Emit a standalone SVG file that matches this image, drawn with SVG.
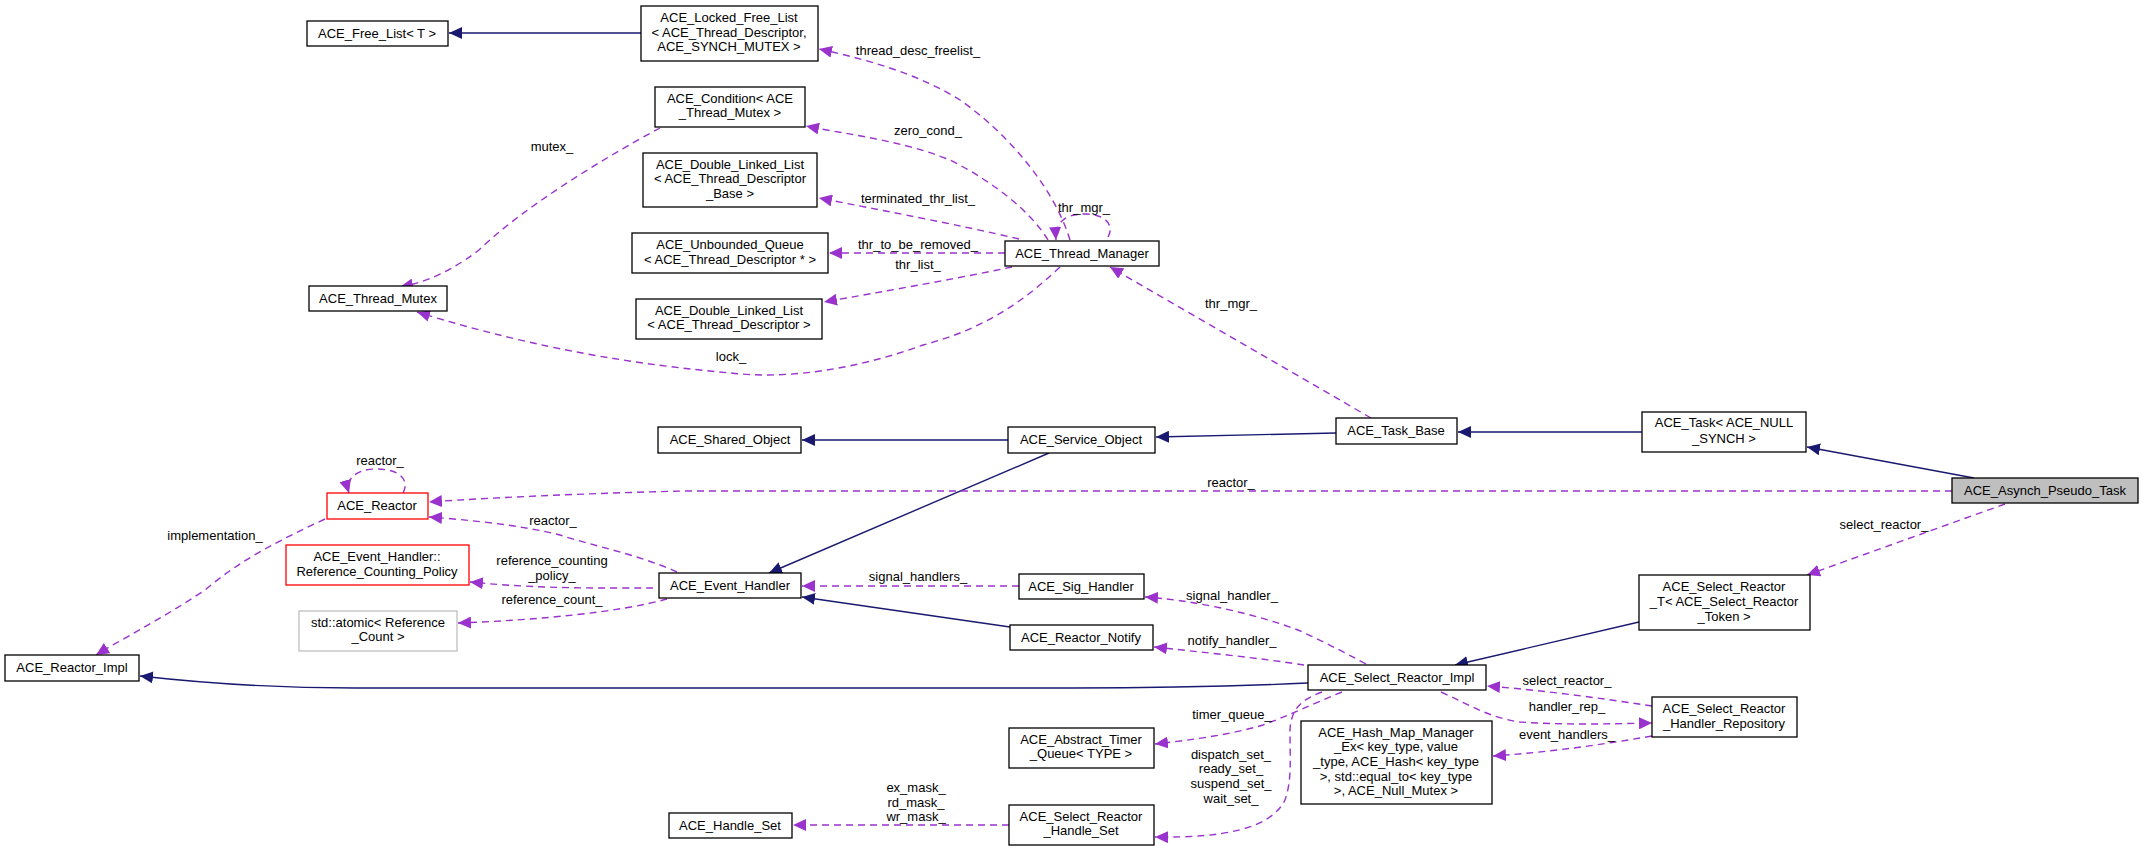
<svg xmlns="http://www.w3.org/2000/svg" width="2144" height="851" viewBox="0 0 2144 851">
<style>
text{font-family:"Liberation Sans",Arial,sans-serif;font-size:13px;fill:#000;text-anchor:middle}
.n{fill:#fff;stroke:#000;stroke-width:1.3}
.r{fill:#fff;stroke:#ff0000;stroke-width:1.3}
.g{fill:#fff;stroke:#bfbfbf;stroke-width:1.3}
.me{fill:#bfbfbf;stroke:#000;stroke-width:1.3}
.i{fill:none;stroke:#191970;stroke-width:1.4;marker-end:url(#ai)}
.u{fill:none;stroke:#9a32cd;stroke-width:1.4;stroke-dasharray:7,5;marker-end:url(#au)}
</style>
<defs>
<marker id="ai" markerUnits="userSpaceOnUse" markerWidth="14" markerHeight="12" refX="13" refY="6" orient="auto"><path d="M0,0 L13,6 L0,12 z" fill="#191970"/></marker>
<marker id="au" markerUnits="userSpaceOnUse" markerWidth="14" markerHeight="12" refX="13" refY="6" orient="auto"><path d="M0,0 L13,6 L0,12 z" fill="#9a32cd"/></marker>
</defs>
<rect width="2144" height="851" fill="#fff"/>
<g id="edges">
<path class="i" d="M641,33 L449,33"/>
<path class="u" d="M1070,240 C1055,190 1010,135 960,100 C920,75 870,60 819,49"/>
<path class="u" d="M1048,240 C1030,210 990,180 950,160 C900,140 850,135 806,126"/>
<path class="u" d="M1019,239 C960,225 880,210 819,198"/>
<path class="u" d="M1005,253 L829,253"/>
<path class="u" d="M1012,267 C950,280 880,292 824,302"/>
<path class="u" d="M1060,267 C1020,305 980,330 923,345 C860,368 790,380 731,373 C640,365 540,350 417,312"/>
<path class="u" d="M660,128 C600,160 520,210 479,250 C440,280 410,285 400,287"/>
<path class="u" d="M1108,237 C1115,225 1105,214 1085,214 C1062,214 1055,225 1056,240"/>
<path class="u" d="M1371,418 L1110,267"/>
<path class="i" d="M1008,440 L802,440"/>
<path class="i" d="M1049,453 L769,573"/>
<path class="u" d="M1952,491 L684,491 C600,493 500,497 429,502"/>
<path class="u" d="M677,572 C640,555 590,545 560,535 C520,525 470,520 429,517"/>
<path class="u" d="M653,588 C600,588 540,589 470,582"/>
<path class="u" d="M667,599 C620,612 540,620 458,623"/>
<path class="u" d="M325,519 C280,540 240,560 205,590 C160,620 120,640 96,655"/>
<path class="u" d="M403,493 C410,480 400,469 376,469 C355,469 345,480 349,493"/>
<path class="i" d="M1308,683 C1200,688 1100,688 1072,688 L355,688 C300,688 220,685 140,676"/>
<path class="u" d="M1019,586 L802,586"/>
<path class="i" d="M1010,627 L802,597"/>
<path class="u" d="M1009,825 L793,825"/>
<path class="i" d="M1336,433 L1156,437"/>
<path class="i" d="M1642,432 L1458,432"/>
<path class="i" d="M1974,478 L1807,447"/>
<path class="u" d="M2005,504 L1807,575"/>
<path class="i" d="M1639,622 L1455,665"/>
<path class="u" d="M1366,664 C1340,650 1320,640 1298,630 C1250,612 1190,600 1145,597"/>
<path class="u" d="M1304,665 C1260,658 1200,652 1154,647"/>
<path class="u" d="M1342,692 C1310,705 1290,715 1263,725 C1230,735 1190,740 1155,744"/>
<path class="u" d="M1322,692 C1300,700 1291,710 1290,730 C1290,760 1292,780 1285,800 C1270,830 1220,838 1155,837"/>
<path class="u" d="M1652,706 C1600,698 1540,690 1487,686"/>
<path class="u" d="M1441,692 C1470,705 1490,718 1520,722 C1560,725 1610,724 1652,723"/>
<path class="u" d="M1652,736 C1600,745 1550,752 1493,756"/>
</g>
<g id="labels">
<text x="918" y="55">thread_desc_freelist_</text>
<text x="928" y="135">zero_cond_</text>
<text x="552" y="151">mutex_</text>
<text x="918" y="203">terminated_thr_list_</text>
<text x="918" y="249">thr_to_be_removed_</text>
<text x="918" y="269">thr_list_</text>
<text x="731" y="361">lock_</text>
<text x="1084" y="212">thr_mgr_</text>
<text x="1231" y="308">thr_mgr_</text>
<text x="380" y="465">reactor_</text>
<text x="215" y="540">implementation_</text>
<text x="553" y="525">reactor_</text>
<text x="552" y="565">reference_counting</text>
<text x="552" y="580">_policy_</text>
<text x="552" y="604">reference_count_</text>
<text x="918" y="581">signal_handlers_</text>
<text x="916" y="792">ex_mask_</text>
<text x="916" y="807">rd_mask_</text>
<text x="916" y="821">wr_mask_</text>
<text x="1231" y="487">reactor_</text>
<text x="1884" y="529">select_reactor_</text>
<text x="1232" y="600">signal_handler_</text>
<text x="1232" y="645">notify_handler_</text>
<text x="1232" y="719">timer_queue_</text>
<text x="1231" y="759">dispatch_set_</text>
<text x="1231" y="773">ready_set_</text>
<text x="1231" y="788">suspend_set_</text>
<text x="1231" y="803">wait_set_</text>
<text x="1567" y="685">select_reactor_</text>
<text x="1567" y="711">handler_rep_</text>
<text x="1567" y="739">event_handlers_</text>
</g>
<g id="n_free"><rect class="n" x="307" y="21" width="141" height="25"/><text x="377" y="38">ACE_Free_List&lt; T &gt;</text></g>
<g id="n_locked"><rect class="n" x="641" y="6" width="177" height="55"/><text x="729" y="22">ACE_Locked_Free_List</text><text x="729" y="37">&lt; ACE_Thread_Descriptor,</text><text x="729" y="51">ACE_SYNCH_MUTEX &gt;</text></g>
<g id="n_cond"><rect class="n" x="655" y="87" width="150" height="40"/><text x="730" y="103">ACE_Condition&lt; ACE</text><text x="730" y="117">_Thread_Mutex &gt;</text></g>
<g id="n_dllb"><rect class="n" x="643" y="153" width="174" height="54"/><text x="730" y="169">ACE_Double_Linked_List</text><text x="730" y="183">&lt; ACE_Thread_Descriptor</text><text x="730" y="198">_Base &gt;</text></g>
<g id="n_uq"><rect class="n" x="632" y="233" width="196" height="40"/><text x="730" y="249">ACE_Unbounded_Queue</text><text x="730" y="264">&lt; ACE_Thread_Descriptor * &gt;</text></g>
<g id="n_dll"><rect class="n" x="636" y="299" width="186" height="40"/><text x="729" y="315">ACE_Double_Linked_List</text><text x="729" y="329">&lt; ACE_Thread_Descriptor &gt;</text></g>
<g id="n_tmutex"><rect class="n" x="309" y="286" width="138" height="25"/><text x="378" y="303">ACE_Thread_Mutex</text></g>
<g id="n_tmgr"><rect class="n" x="1005" y="241" width="154" height="25"/><text x="1082" y="258">ACE_Thread_Manager</text></g>
<g id="n_shared"><rect class="n" x="658" y="427" width="143" height="26"/><text x="730" y="444">ACE_Shared_Object</text></g>
<g id="n_svc"><rect class="n" x="1008" y="427" width="147" height="26"/><text x="1081" y="444">ACE_Service_Object</text></g>
<g id="n_taskbase"><rect class="n" x="1336" y="418" width="121" height="26"/><text x="1396" y="435">ACE_Task_Base</text></g>
<g id="n_task"><rect class="n" x="1642" y="412" width="164" height="40"/><text x="1724" y="427">ACE_Task&lt; ACE_NULL</text><text x="1724" y="443">_SYNCH &gt;</text></g>
<g id="n_asynch"><rect class="me" x="1952" y="478" width="186" height="25"/><text x="2045" y="495">ACE_Asynch_Pseudo_Task</text></g>
<g id="n_reactor"><rect class="r" x="327" y="493" width="101" height="26"/><text x="377" y="510">ACE_Reactor</text></g>
<g id="n_rcp"><rect class="r" x="286" y="545" width="183" height="40"/><text x="377" y="561">ACE_Event_Handler::</text><text x="377" y="576">Reference_Counting_Policy</text></g>
<g id="n_atomic"><rect class="g" x="299" y="611" width="158" height="40"/><text x="378" y="627">std::atomic&lt; Reference</text><text x="378" y="641">_Count &gt;</text></g>
<g id="n_eh"><rect class="n" x="659" y="573" width="142" height="25"/><text x="730" y="590">ACE_Event_Handler</text></g>
<g id="n_rimpl"><rect class="n" x="5" y="655" width="134" height="26"/><text x="72" y="672">ACE_Reactor_Impl</text></g>
<g id="n_hset"><rect class="n" x="669" y="813" width="123" height="25"/><text x="730" y="830">ACE_Handle_Set</text></g>
<g id="n_sig"><rect class="n" x="1019" y="574" width="125" height="25"/><text x="1081" y="591">ACE_Sig_Handler</text></g>
<g id="n_notify"><rect class="n" x="1010" y="625" width="143" height="25"/><text x="1081" y="642">ACE_Reactor_Notify</text></g>
<g id="n_timer"><rect class="n" x="1009" y="728" width="145" height="40"/><text x="1081" y="744">ACE_Abstract_Timer</text><text x="1081" y="758">_Queue&lt; TYPE &gt;</text></g>
<g id="n_srhs"><rect class="n" x="1009" y="805" width="145" height="40"/><text x="1081" y="821">ACE_Select_Reactor</text><text x="1081" y="835">_Handle_Set</text></g>
<g id="n_srt"><rect class="n" x="1639" y="575" width="171" height="55"/><text x="1724" y="591">ACE_Select_Reactor</text><text x="1724" y="606">_T&lt; ACE_Select_Reactor</text><text x="1724" y="621">_Token &gt;</text></g>
<g id="n_sri"><rect class="n" x="1308" y="665" width="178" height="25"/><text x="1397" y="682">ACE_Select_Reactor_Impl</text></g>
<g id="n_repo"><rect class="n" x="1652" y="697" width="145" height="40"/><text x="1724" y="713">ACE_Select_Reactor</text><text x="1724" y="728">_Handler_Repository</text></g>
<g id="n_hash"><rect class="n" x="1301" y="721" width="191" height="83"/><text x="1396" y="737">ACE_Hash_Map_Manager</text><text x="1396" y="751">_Ex&lt; key_type, value</text><text x="1396" y="766">_type, ACE_Hash&lt; key_type</text><text x="1396" y="781">&gt;, std::equal_to&lt; key_type</text><text x="1396" y="795">&gt;, ACE_Null_Mutex &gt;</text></g>
</svg>
